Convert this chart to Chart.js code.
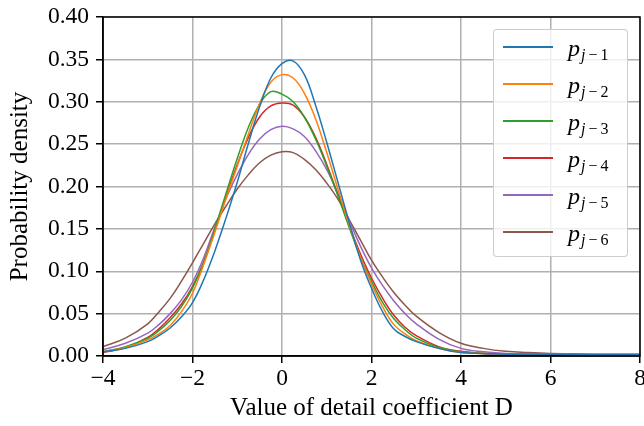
<!DOCTYPE html>
<html>
<head>
<meta charset="utf-8">
<script src="https://cdn.jsdelivr.net/npm/chart.js@4.4.1/dist/chart.umd.min.js"></script>
<style>
html,body{margin:0;padding:0;background:#fff;}
#wrap{position:relative;width:644px;height:426px;}
#legend{position:absolute;left:493px;top:29px;width:135px;height:228px;box-sizing:border-box;border:1px solid rgba(200,200,200,0.9);border-radius:4px;background:rgba(255,255,255,0.8);font-family:'Liberation Serif',serif;color:#000;}
.sw{position:absolute;left:9px;width:50px;height:2px;}
.lb{position:absolute;left:74px;font-size:24px;line-height:24px;white-space:nowrap;}
.lb .p{font-style:italic;}
.lb .s{font-size:16px;position:relative;top:4px;margin-left:1px;}
.lb .s i{font-style:italic;}
.lb .m{margin:0 3px;}
</style>
</head>
<body>
<div id="wrap">
<canvas id="c" width="644" height="426"></canvas>
<div id="legend"></div>
</div>
<script>
// ---- data ----
const xValues = [-4,-3.5,-3,-2.75,-2.5,-2.25,-2,-1.75,-1.5,-1.25,-1,-0.75,-0.5,-0.25,0,0.25,0.5,0.75,1,1.25,1.5,1.75,2,2.25,2.5,2.75,3,3.5,4,4.5,5,5.5,6,7,8];

const p1 = [0.005,0.009,0.017,0.024,0.033,0.046,0.063,0.090,0.124,0.163,0.205,0.251,0.294,0.328,0.345,0.348,0.332,0.296,0.252,0.205,0.158,0.114,0.080,0.052,0.032,0.023,0.017,0.009,0.004,0.003,0.002,0.002,0.002,0.0015,0.0015];
const p2 = [0.005,0.010,0.019,0.026,0.036,0.052,0.074,0.108,0.146,0.186,0.224,0.262,0.298,0.323,0.332,0.328,0.310,0.280,0.240,0.197,0.155,0.117,0.085,0.058,0.037,0.026,0.018,0.009,0.004,0.003,0.002,0.002,0.002,0.0015,0.0015];
const p3 = [0.005,0.011,0.021,0.030,0.042,0.058,0.080,0.110,0.150,0.192,0.233,0.270,0.297,0.312,0.309,0.300,0.282,0.256,0.224,0.189,0.152,0.117,0.088,0.063,0.044,0.031,0.021,0.010,0.005,0.003,0.002,0.002,0.002,0.0015,0.0015];
const p4 = [0.004,0.010,0.022,0.032,0.045,0.061,0.082,0.111,0.148,0.188,0.226,0.258,0.282,0.295,0.2985,0.296,0.282,0.258,0.226,0.190,0.154,0.121,0.092,0.068,0.048,0.034,0.024,0.011,0.0055,0.003,0.002,0.002,0.002,0.0015,0.0015];
const p5 = [0.0075,0.015,0.027,0.037,0.050,0.066,0.087,0.116,0.152,0.186,0.214,0.238,0.256,0.267,0.271,0.268,0.259,0.242,0.220,0.192,0.160,0.130,0.104,0.083,0.065,0.050,0.038,0.020,0.009,0.005,0.003,0.002,0.002,0.002,0.002];
const p6 = [0.011,0.021,0.038,0.052,0.068,0.088,0.110,0.133,0.156,0.177,0.197,0.214,0.228,0.237,0.241,0.240,0.232,0.220,0.204,0.185,0.161,0.137,0.113,0.093,0.075,0.060,0.047,0.028,0.015,0.009,0.0055,0.004,0.003,0.002,0.002];

const seriesSubs = ['j\u22121','j\u22122','j\u22123','j\u22124','j\u22125','j\u22126'];
const xTicks = [-4,-2,0,2,4,6,8];
const yTicks = [0,0.05,0.10,0.15,0.20,0.25,0.30,0.35,0.40];
const xTitle = 'Value of detail coefficient D';
const yTitle = 'Probability density';

const series = [p1,p2,p3,p4,p5,p6];
const colors = ['#1f77b4','#ff7f0e','#2ca02c','#d62728','#9467bd','#8c564b'];
const tickFont = {family:"'Liberation Serif', serif", size:23.5};
const titleFont = {family:"'Liberation Serif', serif", size:25};

const frame = {
  id:'frame',
  afterDraw(chart){
    const {ctx, chartArea:a} = chart;
    ctx.save();
    ctx.strokeStyle='#000';
    ctx.lineWidth=1.5;
    ctx.strokeRect(a.left, a.top, a.right-a.left, a.bottom-a.top);
    ctx.restore();
  }
};

const chart = new Chart(document.getElementById('c'), {
  type:'line',
  data:{
    datasets: series.map((s,i)=>({
      label:'p' + seriesSubs[i],
      data: xValues.map((x,j)=>({x:x, y:s[j]})),
      borderColor: colors[i],
      backgroundColor: colors[i],
      borderWidth:1.5,
      pointRadius:0,
      fill:false,
      tension:0.4
    }))
  },
  options:{
    responsive:false,
    animation:false,
    layout:{padding:{left:0,right:4,top:17,bottom:0}},
    plugins:{legend:{display:false}, tooltip:{enabled:false}},
    scales:{
      x:{
        type:'linear', min:-4, max:8,
        afterBuildTicks(s){ s.ticks = xTicks.map(v=>({value:v})); },
        afterFit(s){ s.height = 70; s.paddingLeft = 0; s.paddingRight = 0; },
        ticks:{font:tickFont, color:'#000', padding:2, maxRotation:0, autoSkip:false,
          callback:(v)=> v<0 ? '\u2212'+Math.abs(v) : String(v)},
        grid:{color:'#b0b0b0', lineWidth:1.5, tickColor:'#000', tickLength:7, tickWidth:1.5},
        border:{color:'#000', width:1.5},
        title:{display:true, text:xTitle, font:titleFont, color:'#000', padding:{top:0,bottom:3}}
      },
      y:{
        type:'linear', min:0, max:0.4,
        afterBuildTicks(s){ s.ticks = yTicks.map(v=>({value:v})); },
        afterFit(s){ s.width = 103; s.paddingTop = 0; s.paddingBottom = 0; },
        ticks:{font:tickFont, color:'#000', padding:7, autoSkip:false,
          callback:(v)=> Number(v).toFixed(2)},
        grid:{color:'#b0b0b0', lineWidth:1.5, tickColor:'#000', tickLength:7, tickWidth:1.5},
        border:{color:'#000', width:1.5},
        title:{display:true, text:yTitle, font:titleFont, color:'#000', padding:{top:5,bottom:0}}
      }
    }
  },
  plugins:[frame]
});

// HTML legend built from the datasets (keeps subscripts as real text)
const leg = document.getElementById('legend');
chart.data.datasets.forEach((d,i)=>{
  const y = Math.round(17 + 36.9*i);
  const sw = document.createElement('div');
  sw.className='sw';
  sw.style.top = (y-1)+'px';
  sw.style.background = d.borderColor;
  leg.appendChild(sw);
  const lb = document.createElement('div');
  lb.className='lb';
  lb.style.top = (y-11)+'px';
  const sub = seriesSubs[i];
  lb.innerHTML = '<span class="p">p</span><span class="s"><i>'+sub.charAt(0)+'</i><span class="m">'+sub.charAt(1)+'</span>'+sub.slice(2)+'</span>';
  leg.appendChild(lb);
});
</script>
</body>
</html>
